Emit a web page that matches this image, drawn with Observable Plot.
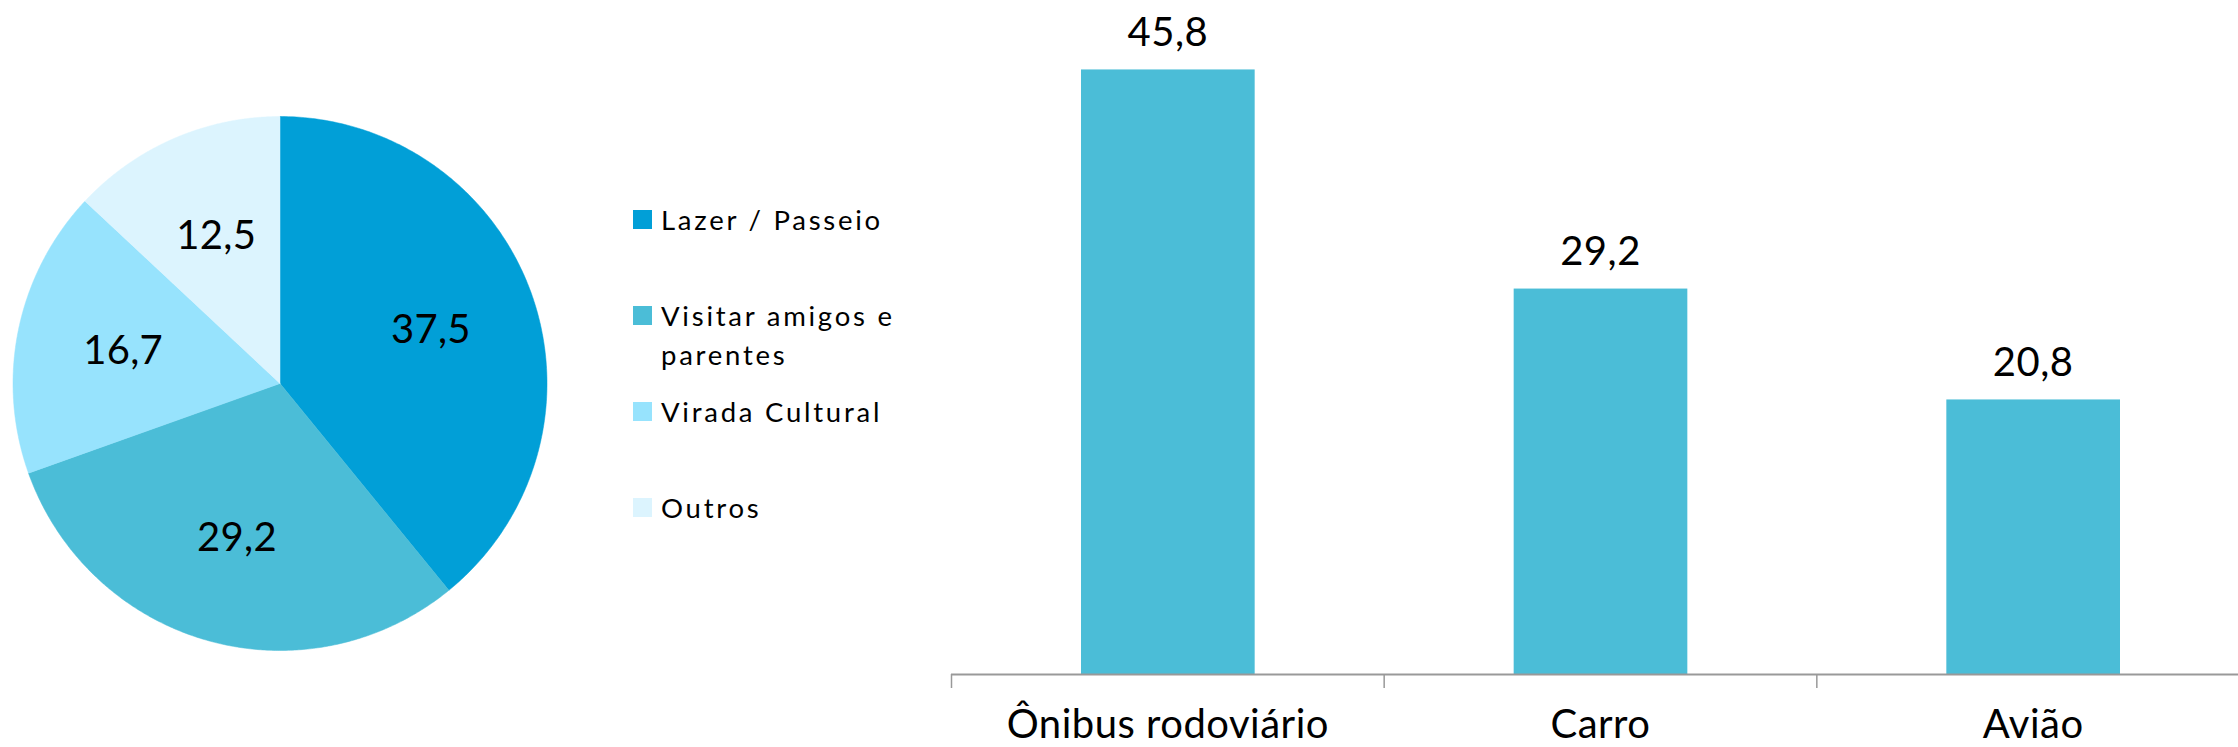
<!DOCTYPE html>
<html>
<head>
<meta charset="utf-8">
<script src="https://cdn.jsdelivr.net/npm/d3@7"></script>
<script src="https://cdn.jsdelivr.net/npm/@observablehq/plot@0.6"></script>
<style>
  html, body { margin: 0; padding: 0; background: #fff; overflow: hidden; }
  #wrap { position: relative; width: 2238px; height: 747px; font-family: Lato, "Open Sans", sans-serif; color: #000; }
  #wrap > * { position: absolute; }
  #bars { left: 0; top: 0; }
  #pie { left: 0; top: 0; }
  #legend { left: 633px; top: 200px; width: 300px; }
  .item { display: flex; align-items: flex-start; height: 96px; font-size: 27.5px; line-height: 39px; letter-spacing: 0.1em; }
  .sw { width: 19px; height: 19px; margin-top: 10px; margin-right: 9px; flex: none; }
  .lab { width: 262px; }
</style>
</head>
<body>
<div id="wrap">
  <div id="bars"></div>
  <div id="pie"></div>
  <div id="legend"></div>
</div>
<script>
// ---- Pie data ----
const pieCategories = ["Lazer / Passeio", "Visitar amigos e parentes", "Virada Cultural", "Outros"];
const pieValues = [37.5, 29.2, 16.7, 12.5];
const pieColors = ["#019FD7", "#4BBDD7", "#97E3FD", "#DCF4FE"];

// ---- Bar data ----
const barCategories = ["Ônibus rodoviário", "Carro", "Avião"];
const barValues = [45.8, 29.2, 20.8];
const barColor = "#4BBDD7";

const fmt = v => v.toFixed(1).replace(".", ",");
const FONT = "Lato, 'Open Sans', sans-serif";

// ---- Pie geometry from d3.pie ----
const arcs = d3.pie().sort(null)(pieValues);
const pieRows = [];
arcs.forEach((a, i) => {
  const cat = pieCategories[i];
  pieRows.push({cat, x: 0, y: 0});
  const n = 240;
  for (let k = 0; k <= n; k++) {
    const t = a.startAngle + (a.endAngle - a.startAngle) * k / n;
    pieRows.push({cat, x: Math.sin(t), y: Math.cos(t)});
  }
  pieRows.push({cat, x: 0, y: 0});
});
const labelR = 0.6;
const pieLabels = arcs.map((a, i) => {
  const m = (a.startAngle + a.endAngle) / 2;
  return {cat: pieCategories[i], value: pieValues[i], x: Math.sin(m) * labelR, y: Math.cos(m) * labelR};
});

const pie = Plot.plot({
  width: 560, height: 747,
  margin: 0,
  style: {background: "transparent", fontFamily: FONT, color: "#000", letterSpacing: "0.03em"},
  x: {domain: [-1, 1], range: [12.5, 546.5], axis: null},
  y: {domain: [-1, 1], range: [650, 116], axis: null},
  color: {domain: pieCategories, range: pieColors},
  marks: [
    Plot.line(pieRows, {x: "x", y: "y", z: "cat", fill: "cat", stroke: "cat", strokeWidth: 0.5, curve: "linear"}),
    Plot.text(pieLabels, {x: "x", y: "y", text: d => fmt(d.value), fontSize: 40, fill: "#000", lineAnchor: "middle"})
  ]
});
document.getElementById("pie").appendChild(pie);

// ---- Legend ----
const legend = document.getElementById("legend");
pieCategories.forEach((c, i) => {
  const item = document.createElement("div");
  item.className = "item";
  const sw = document.createElement("div");
  sw.className = "sw";
  sw.style.background = pieColors[i];
  const lab = document.createElement("div");
  lab.className = "lab";
  lab.textContent = c;
  item.appendChild(sw); item.appendChild(lab);
  legend.appendChild(item);
});

// ---- Bar chart ----
const barData = barCategories.map((c, i) => ({cat: c, i, value: barValues[i]}));
const bars = Plot.plot({
  width: 2238, height: 747,
  marginTop: 14, marginBottom: 73, marginLeft: 951, marginRight: 0,
  style: {background: "transparent", fontFamily: FONT, color: "#000", letterSpacing: "0.05em"},
  x: {domain: [0, 3], range: [951, 2249], axis: null},
  y: {domain: [0, 50], range: [674, 14], axis: null},
  marks: [
    Plot.rectY(barData, {x1: "i", x2: d => d.i + 1, y: "value", fill: barColor, insetLeft: 130, insetRight: 129}),
    Plot.ruleY([0], {x1: 0, x2: 3, stroke: "#999", strokeWidth: 2}),
    Plot.axisX({ticks: [0, 1, 2, 3], tickSize: 14, tickFormat: () => "", stroke: "#999", strokeWidth: 1.5, label: null}),
    Plot.text(barData, {x: d => d.i + 0.5, y: "value", text: d => fmt(d.value), fontSize: 40, fill: "#000", lineAnchor: "bottom", dy: -24}),
    Plot.text(barData, {x: d => d.i + 0.5, y: () => 0, text: "cat", fontSize: 40, fill: "#000", lineAnchor: "bottom", dy: 63})
  ]
});
document.getElementById("bars").appendChild(bars);
</script>
</body>
</html>
